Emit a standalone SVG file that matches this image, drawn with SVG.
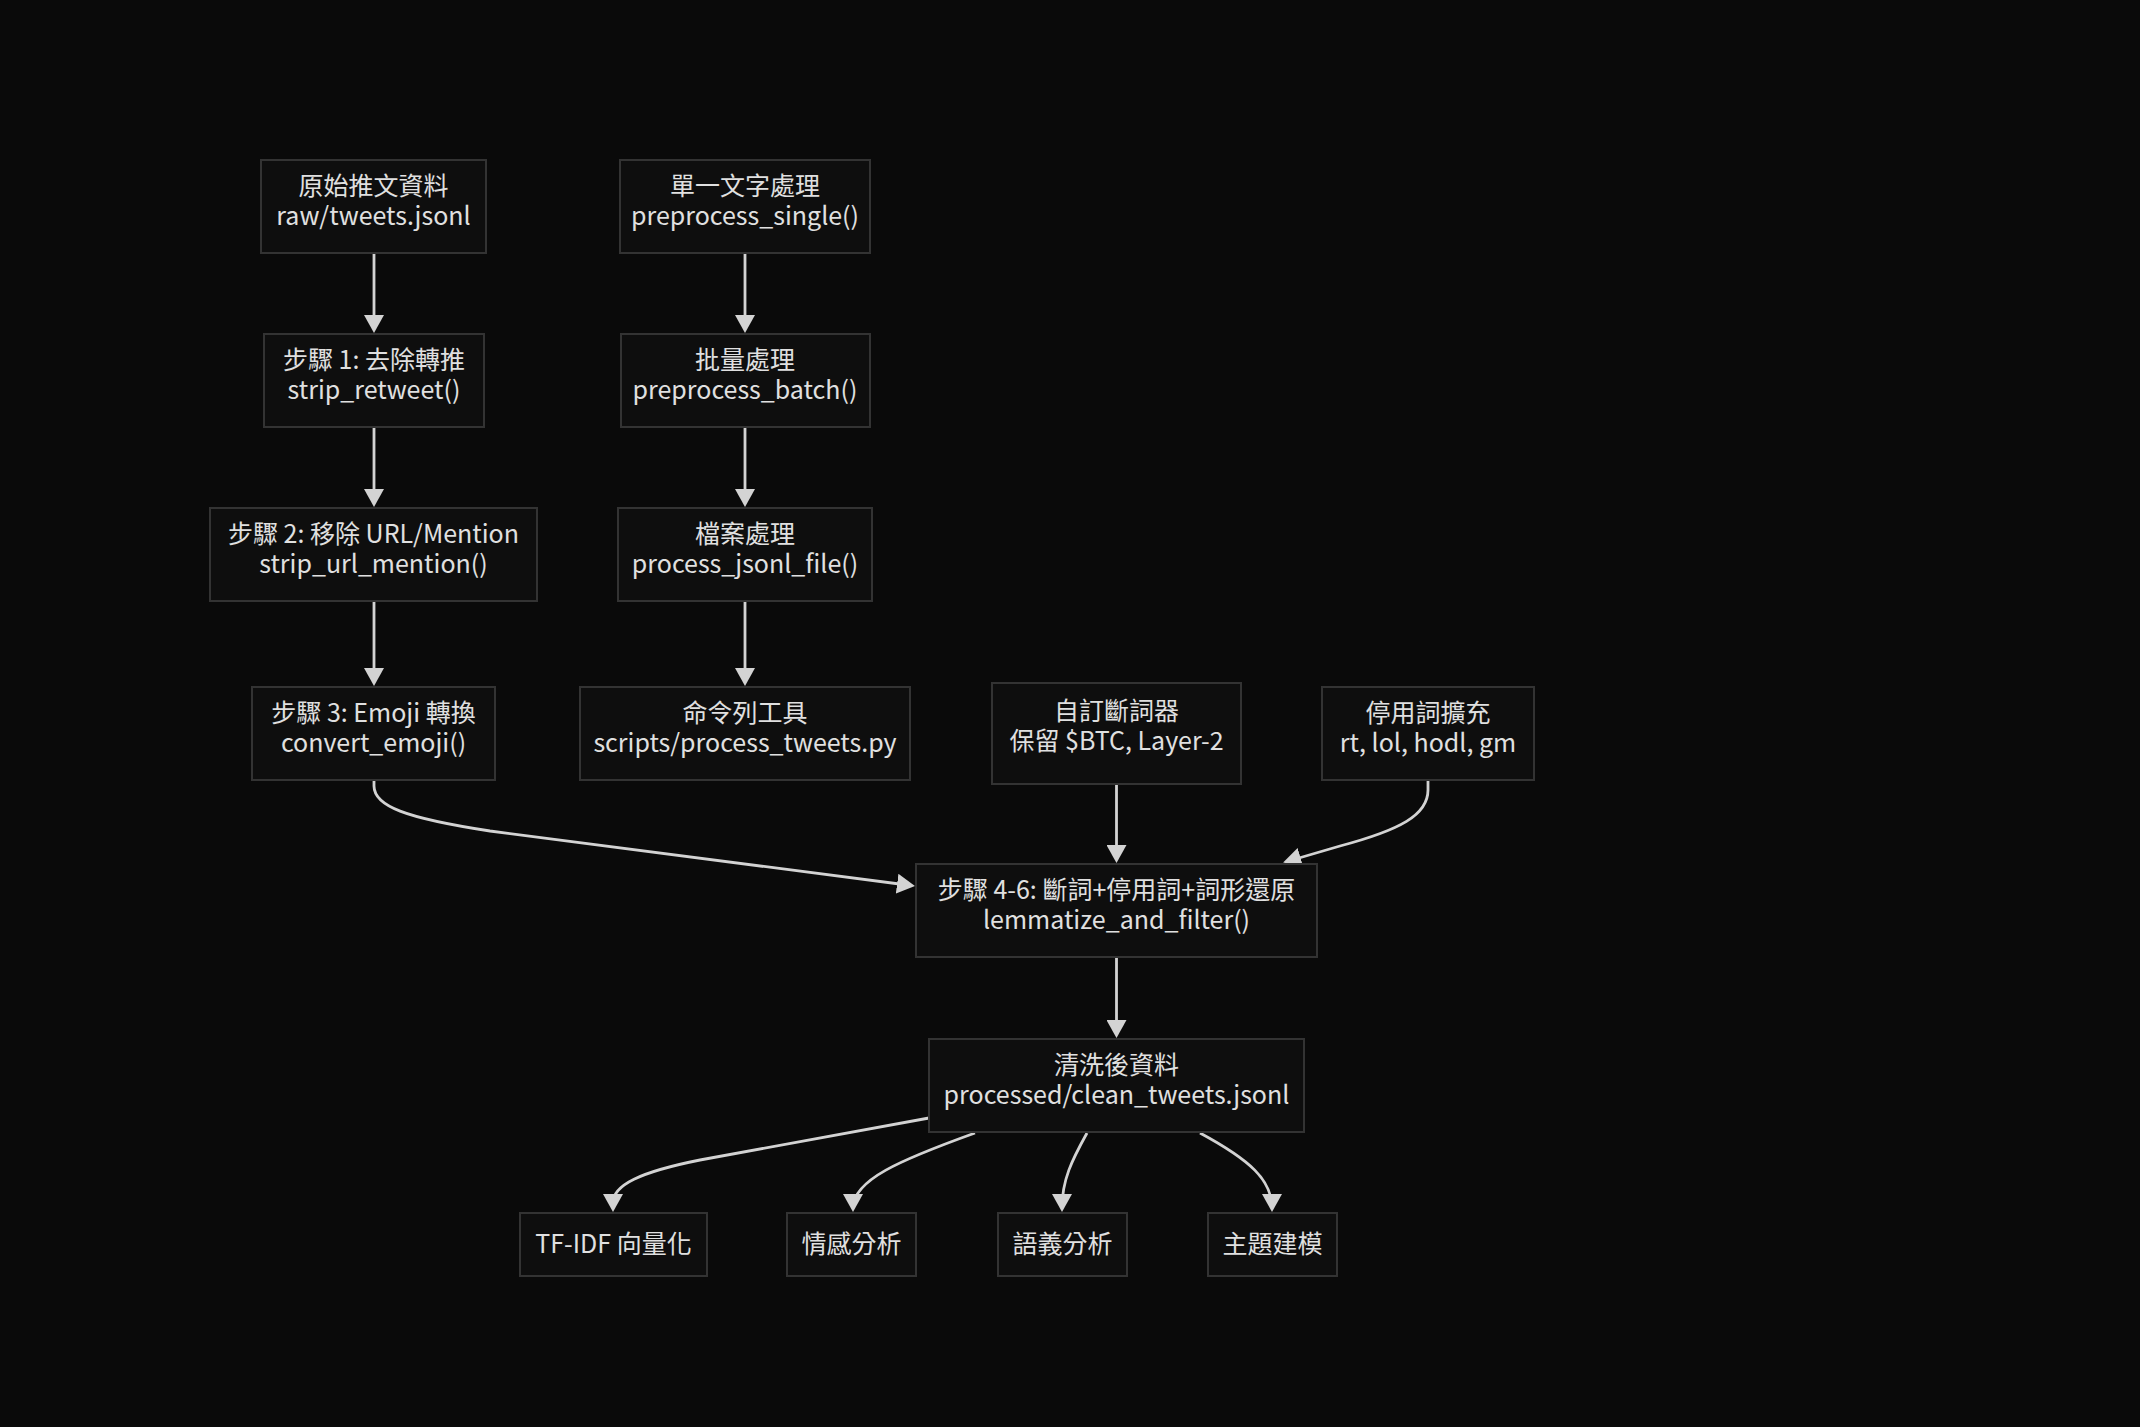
<svg xmlns="http://www.w3.org/2000/svg" width="2140" height="1427" viewBox="0 0 2140 1427">
<defs>
<style>
.n rect{fill:#0e0e0e;stroke:#333333;stroke-width:2}
.n text{font-family:"Noto Sans CJK TC","Noto Sans",sans-serif;font-size:25px;fill:#e0e0e0;text-anchor:middle}
.e path{fill:none;stroke:#d3d3d3;stroke-width:2.8}
</style>
<marker id="ah" viewBox="0 0 18 20" markerWidth="18" markerHeight="20" markerUnits="userSpaceOnUse" refX="14" refY="10" orient="auto">
<path d="M0,0 L18,10 L0,20 z" fill="#d3d3d3"/>
</marker>
</defs>
<rect x="0" y="0" width="2140" height="1427" fill="#0a0a0a"/>
<g id="edges" class="e">
<path d="M374,253 L374,329" marker-end="url(#ah)"/>
<path d="M374,427 L374,503" marker-end="url(#ah)"/>
<path d="M374,601 L374,682" marker-end="url(#ah)"/>
<path d="M745,253 L745,329" marker-end="url(#ah)"/>
<path d="M745,427 L745,503" marker-end="url(#ah)"/>
<path d="M745,601 L745,682" marker-end="url(#ah)"/>
<path d="M1116.5,784 L1116.5,859" marker-end="url(#ah)"/>
<path d="M1116.5,957 L1116.5,1034" marker-end="url(#ah)"/>
<path d="M374,780 L374,786 C374,806 405,818 490,831 L911,885.5" marker-end="url(#ah)"/>
<path d="M1428,780 L1428,790 C1428,815 1400,830 1340,846 L1287,861.5" marker-end="url(#ah)"/>
<path d="M929,1118 L700,1160 C640,1172 613,1185 613,1203 L613,1208" marker-end="url(#ah)"/>
<path d="M975,1133 C900,1160 853,1180 853,1208" marker-end="url(#ah)"/>
<path d="M1087,1133 C1072,1160 1062,1180 1062,1208" marker-end="url(#ah)"/>
<path d="M1200,1133 C1250,1160 1272,1180 1272,1208" marker-end="url(#ah)"/>
</g>
<g id="raw" class="n"><rect x="261" y="160" width="225" height="93"/><text x="373.5" y="195">原始推文資料</text><text x="373.5" y="225">raw/tweets.jsonl</text></g>
<g id="step1" class="n"><rect x="264" y="334" width="220" height="93"/><text x="374" y="369">步驟 1: 去除轉推</text><text x="374" y="399">strip_retweet()</text></g>
<g id="step2" class="n"><rect x="210" y="508" width="327" height="93"/><text x="373.5" y="543">步驟 2: 移除 URL/Mention</text><text x="373.5" y="573">strip_url_mention()</text></g>
<g id="step3" class="n"><rect x="252" y="687" width="243" height="93"/><text x="373.5" y="722">步驟 3: Emoji 轉換</text><text x="373.5" y="752">convert_emoji()</text></g>
<g id="single" class="n"><rect x="620" y="160" width="250" height="93"/><text x="745" y="195">單一文字處理</text><text x="745" y="225">preprocess_single()</text></g>
<g id="batch" class="n"><rect x="621" y="334" width="249" height="93"/><text x="745" y="369">批量處理</text><text x="745" y="399">preprocess_batch()</text></g>
<g id="file" class="n"><rect x="618" y="508" width="254" height="93"/><text x="745" y="543">檔案處理</text><text x="745" y="573">process_jsonl_file()</text></g>
<g id="cli" class="n"><rect x="580" y="687" width="330" height="93"/><text x="745" y="722">命令列工具</text><text x="745" y="752">scripts/process_tweets.py</text></g>
<g id="tokenizer" class="n"><rect x="992" y="683" width="249" height="101"/><text x="1116.5" y="720">自訂斷詞器</text><text x="1116.5" y="750">保留 $BTC, Layer-2</text></g>
<g id="stopwords" class="n"><rect x="1322" y="687" width="212" height="93"/><text x="1428" y="722">停用詞擴充</text><text x="1428" y="752">rt, lol, hodl, gm</text></g>
<g id="step46" class="n"><rect x="916" y="864" width="401" height="93"/><text x="1116.5" y="899">步驟 4-6: 斷詞+停用詞+詞形還原</text><text x="1116.5" y="929">lemmatize_and_filter()</text></g>
<g id="clean" class="n"><rect x="929" y="1039" width="375" height="93"/><text x="1116.5" y="1074">清洗後資料</text><text x="1116.5" y="1104">processed/clean_tweets.jsonl</text></g>
<g id="tfidf" class="n"><rect x="520" y="1213" width="187" height="63"/><text x="613.5" y="1253">TF-IDF 向量化</text></g>
<g id="sentiment" class="n"><rect x="787" y="1213" width="129" height="63"/><text x="851.5" y="1253">情感分析</text></g>
<g id="semantic" class="n"><rect x="998" y="1213" width="129" height="63"/><text x="1062.5" y="1253">語義分析</text></g>
<g id="topic" class="n"><rect x="1208" y="1213" width="129" height="63"/><text x="1272.5" y="1253">主題建模</text></g>
</svg>
